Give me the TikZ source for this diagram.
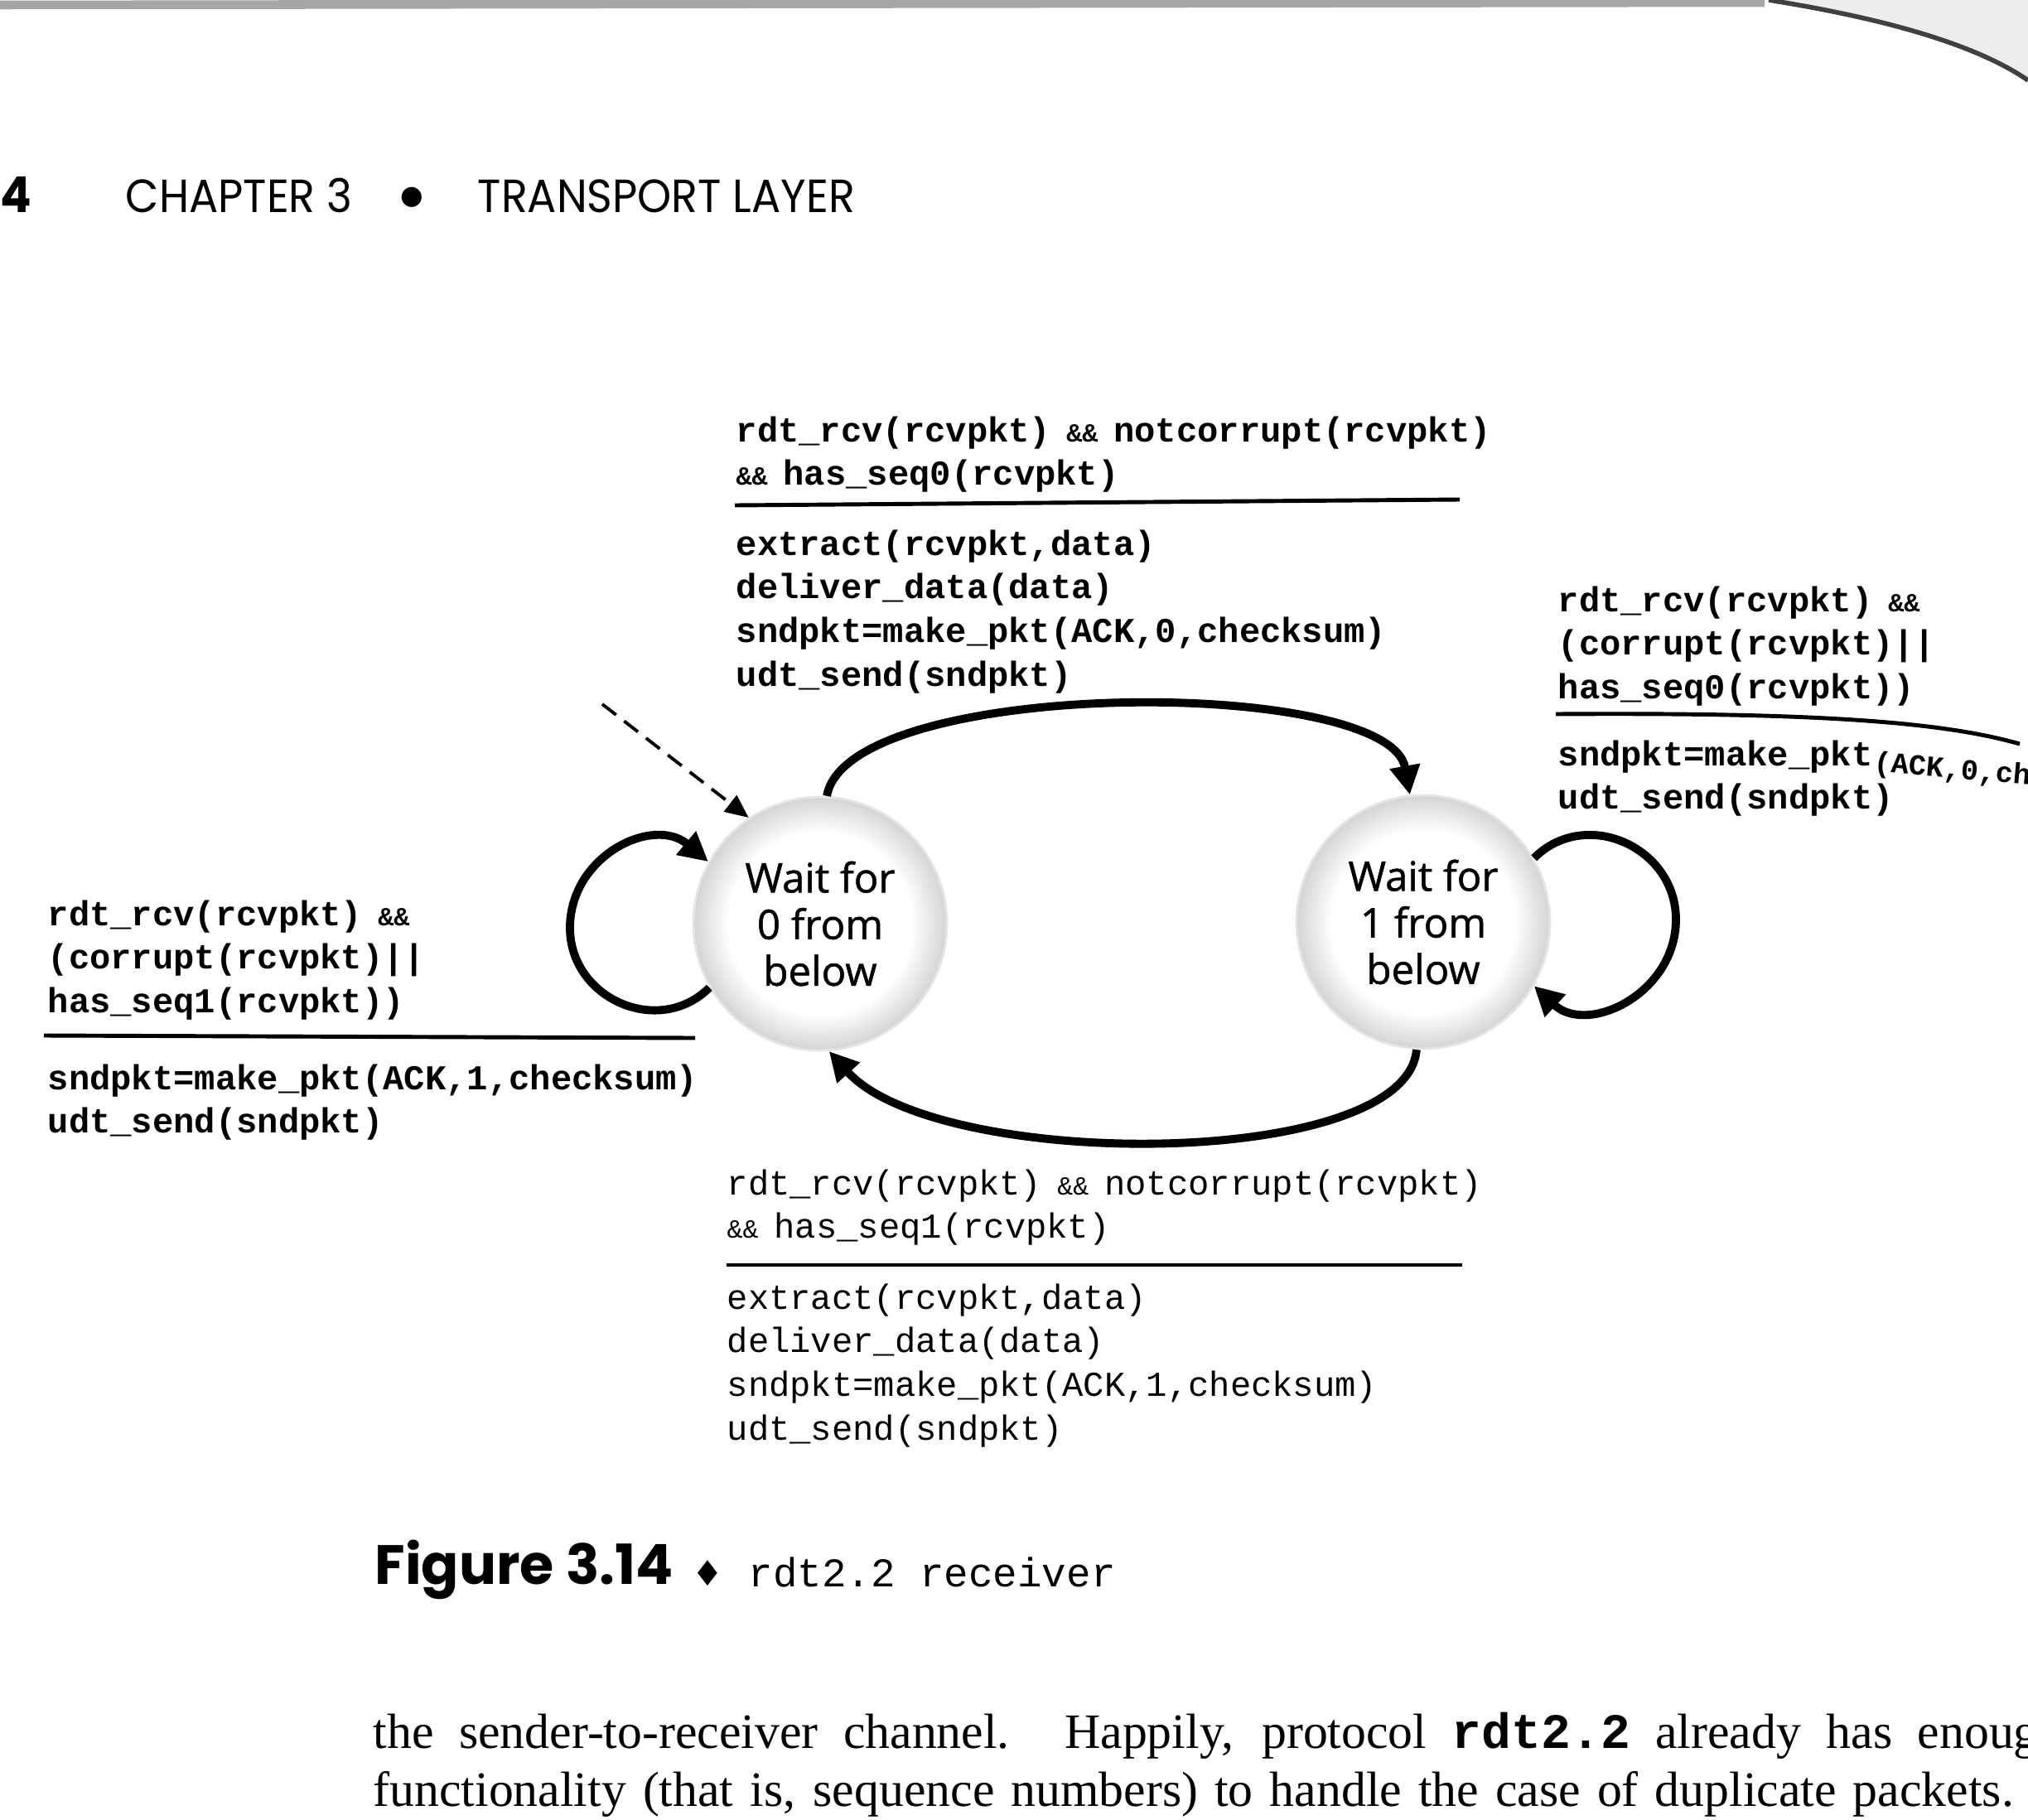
\documentclass[tikz,border=0pt]{standalone}
\usepackage{fontspec}
\setmainfont{Liberation Serif}
\setmonofont{Liberation Mono}
\newfontfamily\headfont[FakeStretch=0.93]{Poppins}
\newfontfamily\capfont{Poppins}
\newfontfamily\statefont[FakeBold=1]{Open Sans}
\newfontfamily\symfont{DejaVu Sans}
\usetikzlibrary{arrows.meta}

\pgfdeclareradialshading{statefill}{\pgfpoint{0bp}{0bp}}{color(0bp)=(white); color(18bp)=(white); color(25bp)=(black!17); color(50bp)=(black!17)}

\newcommand{\rows}[1]{\begin{tabular}[t]{@{}l@{}}#1\end{tabular}}
\newcommand{\amps}{{\fontsize{9}{9}\selectfont\&\&}}
\newcommand{\andand}{{\fontsize{9}{9}\selectfont\ \&\&\ }}
\newcommand{\leadand}{{\fontsize{9}{9}\selectfont\&\&\ }}
\newcommand{\curltail}[1]{\raisebox{-2pt}[0pt][0pt]{\rotatebox{-5}{\fontsize{10}{10}\selectfont #1}}}

\tikzset{
  state/.style={circle, minimum size=3.06cm, inner sep=0pt, shading=statefill, draw=black!10, line width=0.8pt, align=center, font=\statefont\fontsize{14}{16}\selectfont},
  code/.style={inner sep=0pt, anchor=base west, font=\ttfamily\bfseries\fontsize{12}{15}\selectfont},
  thin code/.style={code, font=\ttfamily\fontsize{12}{15}\selectfont},
  trans/.style={line width=2.8pt, -{Triangle[length=10pt, width=10pt]}},
  init/.style={line width=1.1pt, dash pattern=on 6pt off 3.5pt, -{Triangle[length=8pt, width=7pt]}},
  rule/.style={line width=1.4pt},
  page/.style={inner sep=0pt, anchor=base west},
}

\begin{document}
\begin{tikzpicture}
  \useasboundingbox (0,0) rectangle (24.48,-21.97);

  % page edge
  \draw[black!35, line width=3pt] (0,-0.06) -- (21.3,-0.03);
  \fill[black!7] (21.35,0) .. controls (22.6,-0.2) and (23.8,-0.5) .. (24.48,-0.97) -- (24.48,0) -- cycle;
  \draw[black!75, line width=1.6pt] (21.35,0) .. controls (22.6,-0.2) and (23.8,-0.5) .. (24.48,-0.97);

  % running head
  \node[page, font=\headfont\bfseries\fontsize{17}{17}\selectfont] (pagenum) at (0,-2.57) {4};
  \node[page, font=\headfont\fontsize{16}{16}\selectfont] (chapter) at (1.51,-2.57) {CHAPTER 3};
  \node[font=\symfont\fontsize{9}{9}\selectfont, inner sep=0pt] (bullet) at (4.97,-2.38) {●};
  \node[page, font=\headfont\fontsize{16}{16}\selectfont] (part) at (5.76,-2.57) {TRANSPORT LAYER};

  % states
  \node[state] (w0) at (9.90,-11.15) {Wait for\\0 from\\below};
  \node[state] (w1) at (17.18,-11.13) {Wait for\\1 from\\below};

  % labels
  \node[code] (topcond) at (8.88,-5.33) {\rows{rdt\_rcv(rcvpkt)\andand notcorrupt(rcvpkt)\\\leadand has\_seq0(rcvpkt)}};
  \node[code] (topact) at (8.88,-6.70) {\rows{extract(rcvpkt,data)\\deliver\_data(data)\\sndpkt=make\_pkt(ACK,0,checksum)\\udt\_send(sndpkt)}};
  \draw[rule] (8.87,-6.10) -- (17.62,-6.03);

  \node[code] (leftcond) at (0.57,-11.17) {\rows{rdt\_rcv(rcvpkt)\andand\\(corrupt(rcvpkt)||\\has\_seq1(rcvpkt))}};
  \node[code] (leftact) at (0.57,-13.15) {\rows{sndpkt=make\_pkt(ACK,1,checksum)\\udt\_send(sndpkt)}};
  \draw[rule] (0.53,-12.50) -- (8.39,-12.53);

  \node[code] (rightcond) at (18.80,-7.38) {\rows{rdt\_rcv(rcvpkt)\andand\\(corrupt(rcvpkt)||\\has\_seq0(rcvpkt))}};
  \node[code] (rightact) at (18.80,-9.24) {\rows{sndpkt=make\_pkt\curltail{(ACK,0,checksum)}\\udt\_send(sndpkt)}};
  \draw[rule] (18.78,-8.62) .. controls (21.8,-8.60) and (23.4,-8.70) .. (24.38,-8.98);

  \node[thin code] (botcond) at (8.77,-14.42) {\rows{rdt\_rcv(rcvpkt)\andand notcorrupt(rcvpkt)\\\leadand has\_seq1(rcvpkt)}};
  \node[thin code] (botact) at (8.77,-15.80) {\rows{extract(rcvpkt,data)\\deliver\_data(data)\\sndpkt=make\_pkt(ACK,1,checksum)\\udt\_send(sndpkt)}};
  \draw[rule] (8.77,-15.27) -- (17.65,-15.27);

  % transitions
  \coordinate (start) at (7.27,-8.50);
  \coordinate (lp0) at (6.88,-11.20);
  \coordinate (lp1) at (20.23,-11.10);
  \draw[init] (start) -- (w0.124);
  \draw[trans] (w0.87) to[out=80, in=100, looseness=0.53] (w1.96);
  \draw[trans] (w1.-93) .. controls +(-95:1.47) and +(-48:1.95) .. (w0.-86);
  \draw[trans] (w0.210) to[out=225, in=-90, looseness=1.2] (lp0) to[out=90, in=140, looseness=1.2] (w0.151);
  \draw[trans] (w1.30) to[out=45, in=90, looseness=1.2] (lp1) to[out=-90, in=-43, looseness=1.2] (w1.-30);

  % caption
  \node[page, font=\capfont\bfseries\fontsize{19}{19}\selectfont] (fignum) at (4.52,-19.12) {Figure 3.14};
  \node[font=\symfont\fontsize{12}{12}\selectfont, inner sep=0pt] (figsep) at (8.54,-18.99) {♦};
  \node[page, font=\ttfamily\fontsize{14}{14}\selectfont] (figtitle) at (9.03,-19.15) {rdt2.2 receiver};

  % running text
  \node[page, font=\fontsize{17}{17}\selectfont] (body1) at (4.50,-21.10) {\makebox[20.4cm][s]{the sender-to-receiver channel. Happily, protocol {\ttfamily\bfseries rdt2.2} already has enough}};
  \node[page, font=\fontsize{17}{17}\selectfont] (body2) at (4.50,-21.80) {\makebox[19.8cm][s]{functionality (that is, sequence numbers) to handle the case of duplicate packets.}};
\end{tikzpicture}
\end{document}
